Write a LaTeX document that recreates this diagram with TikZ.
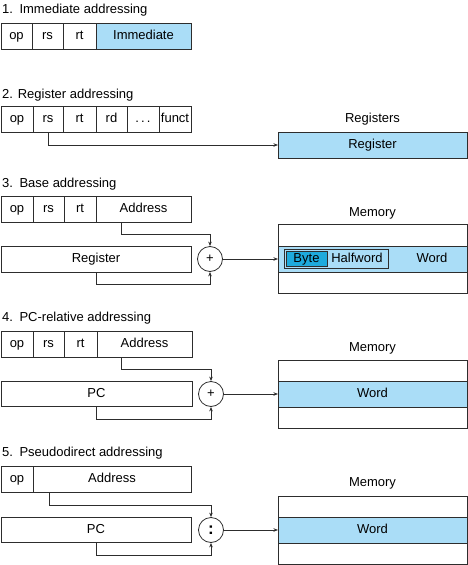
\documentclass[tikz,border=0pt]{standalone}
\usepackage{fontspec}
\setmainfont{Liberation Sans}
\usetikzlibrary{arrows.meta,positioning}

\definecolor{lineg}{RGB}{45,45,45}
\definecolor{regblue}{RGB}{170,221,247}
\definecolor{bytecyan}{RGB}{30,170,220}

\tikzset{
  field/.style={draw=lineg, line width=0.8pt, inner sep=0pt, outer sep=0pt,
                minimum height=26pt, text height=9.5pt, text depth=2.5pt},
  title/.style={anchor=west, inner sep=0pt},
  lbl/.style={inner sep=0pt, text height=9.5pt, text depth=2.5pt},
  adder/.style={draw=lineg, line width=0.8pt, circle, minimum size=25pt, inner sep=0pt},
  conn/.style={draw=lineg, line width=0.7pt}
}

\begin{document}
\begin{tikzpicture}[x=1pt, y=-1pt, >={Stealth[length=4.5pt,width=3.5pt]},
                    every node/.style={font=\fontsize{13}{15}\selectfont}]
\useasboundingbox (0,0) rectangle (468,565);

% 1. immediate
\node[title] (t1) at (2,10) {1.\enspace Immediate addressing};
\node[field, minimum width=31pt, anchor=north west] (op1) at (1,23) {op};
\node[field, minimum width=31pt, right=0pt of op1] (rs1) {rs};
\node[field, minimum width=33pt, right=0pt of rs1] (rt1) {rt};
\node[field, fill=regblue, minimum width=95pt, right=0pt of rt1] (imm1) {Immediate};

% 2. register
\node[title] (t2) at (2,95) {2. Register addressing};
\node[field, minimum width=32pt, anchor=north west] (op2) at (1,106) {op};
\node[field, minimum width=30pt, right=0pt of op2] (rs2) {rs};
\node[field, minimum width=33pt, right=0pt of rs2] (rt2) {rt};
\node[field, minimum width=31pt, right=0pt of rt2] (rd2) {rd};
\node[field, minimum width=32pt, right=0pt of rd2] (dots2) {.\,.\,.};
\node[field, minimum width=32pt, right=0pt of dots2] (fn2) {funct};
\node[field, fill=regblue, minimum width=189pt, anchor=north west] (reg2) at (278,132) {Register};
\node[lbl] (regs2) at ([yshift=13pt]reg2.north) {Registers};
\draw[conn,->] (rs2.south) |- (reg2.west);

% 3. base
\node[title] (t3) at (2,184) {3.\enspace Base addressing};
\node[field, minimum width=32pt, anchor=north west] (op3) at (1,196) {op};
\node[field, minimum width=31pt, right=0pt of op3] (rs3) {rs};
\node[field, minimum width=32pt, right=0pt of rs3] (rt3) {rt};
\node[field, minimum width=95pt, right=0pt of rt3] (addr3) {Address};
\node[field, minimum width=190pt, anchor=north west] (reg3) at (1,246) {Register};
\node[adder] (sum3) at (210,259) {+};
\node[field, minimum width=189pt, minimum height=22pt, anchor=north west] (m3a) at (278,224) {};
\node[field, fill=regblue, minimum width=189pt, below=0pt of m3a] (m3b) {};
\node[field, minimum width=189pt, minimum height=21pt, below=0pt of m3b] (m3c) {};
\node[lbl] (mem3) at ([yshift=11pt]m3a.north) {Memory};
\node[field, fill=regblue, minimum width=104pt, minimum height=19pt, anchor=west] (hw3) at ([xshift=6pt]m3b.west) {};
\node[field, fill=bytecyan, minimum width=41pt, minimum height=15pt, anchor=west] (byte3) at ([xshift=2pt]hw3.west) {Byte};
\node[lbl] (half3) at ([xshift=-31pt]hw3.east) {Halfword};
\node[lbl] (word3) at ([xshift=-35pt]m3b.east) {Word};
\draw[conn,->] ([xshift=-22pt]addr3.south) -- ++(0,12) -| (sum3.north);
\draw[conn,->] (reg3.south) -- ++(0,12) -| (sum3.south);
\draw[conn,->] (sum3.east) -- (sum3.east -| m3b.west);

% 4. pc-relative
\node[title] (t4) at (2,318) {4.\enspace PC-relative addressing};
\node[field, minimum width=32pt, anchor=north west] (op4) at (1,331) {op};
\node[field, minimum width=31pt, right=0pt of op4] (rs4) {rs};
\node[field, minimum width=33pt, right=0pt of rs4] (rt4) {rt};
\node[field, minimum width=95pt, right=0pt of rt4] (addr4) {Address};
\node[field, minimum width=191pt, minimum height=25pt, anchor=north west] (pc4) at (1,381) {PC};
\node[adder] (sum4) at (211,394) {+};
\node[field, minimum width=189pt, minimum height=21pt, anchor=north west] (m4a) at (278,360) {};
\node[field, fill=regblue, minimum width=189pt, below=0pt of m4a] (m4b) {Word};
\node[field, minimum width=189pt, minimum height=21pt, below=0pt of m4b] (m4c) {};
\node[lbl] (mem4) at ([yshift=12pt]m4a.north) {Memory};
\draw[conn,->] ([xshift=-23pt]addr4.south) -- ++(0,12) -| (sum4.north);
\draw[conn,->] (pc4.south) -- ++(0,13) -| (sum4.south);
\draw[conn,->] (sum4.east) -- (sum4.east -| m4b.west);

% 5. pseudodirect
\node[title] (t5) at (2,453) {5.\enspace Pseudodirect addressing};
\node[field, minimum width=32pt, anchor=north west] (op5) at (1,466) {op};
\node[field, minimum width=158pt, right=0pt of op5] (addr5) {Address};
\node[field, minimum width=190pt, minimum height=25pt, anchor=north west] (pc5) at (1,517) {PC};
\node[adder, font=\fontsize{17}{17}\selectfont\bfseries] (sum5) at (211,530) {:};
\node[field, minimum width=189pt, minimum height=21pt, anchor=north west] (m5a) at (278,496) {};
\node[field, fill=regblue, minimum width=189pt, below=0pt of m5a] (m5b) {Word};
\node[field, minimum width=189pt, minimum height=21pt, below=0pt of m5b] (m5c) {};
\node[lbl] (mem5) at ([yshift=13pt]m5a.north) {Memory};
\draw[conn,->] ([xshift=-63pt]addr5.south) -- ++(0,13) -| (sum5.north);
\draw[conn,->] (pc5.south) -- ++(0,13) -| (sum5.south);
\draw[conn,->] (sum5.east) -- (sum5.east -| m5b.west);
\end{tikzpicture}
\end{document}
